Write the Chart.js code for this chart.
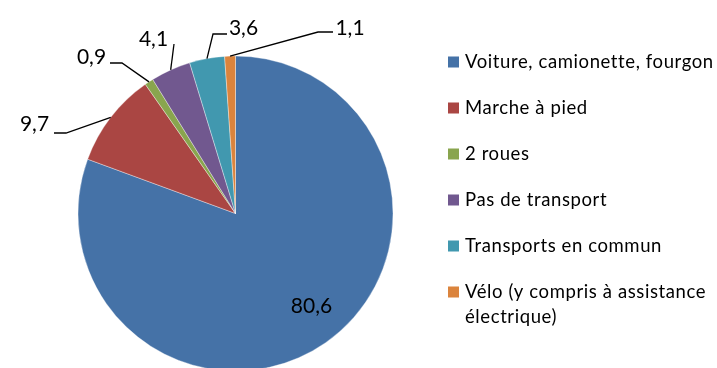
<!DOCTYPE html>
<html>
<head>
<meta charset="utf-8">
<script src="https://cdn.jsdelivr.net/npm/chart.js@4/dist/chart.umd.min.js"></script>
<style>
  html, body { margin: 0; padding: 0; background: #fff; overflow: hidden; }
  #wrap { position: relative; width: 717px; height: 368px; }
</style>
</head>
<body>
<div id="wrap"><canvas id="c" width="717" height="368"></canvas></div>
<script>
// Modes de transport (parts en %)
const categories = [
  'Voiture, camionette, fourgon',
  'Marche à pied',
  '2 roues',
  'Pas de transport',
  'Transports en commun',
  ['Vélo (y compris à assistance', 'électrique)']
];
const shares = [80.6, 9.7, 0.9, 4.1, 3.6, 1.1];
const valueLabels = ['80,6', '9,7', '0,9', '4,1', '3,6', '1,1'];
const colors = ['#4572A7', '#AA4643', '#89A54E', '#71588F', '#4198AF', '#DB843D'];

// Label placement relative to the pie centre: text centre, leader end and elbow
const labelLayout = [
  { text: [76, 93], leader: null },
  { text: [-201, -89.5], end: [-181.5, -80.5], elbow: [-169.5, -80.5] },
  { text: [-144, -156], end: [-125.5, -150.5], elbow: [-113.5, -150.5] },
  { text: [-82, -174], end: [-61.5, -169.5], elbow: [-61.5, -169.5] },
  { text: [8, -185], end: [-8.5, -179.5], elbow: [-22.5, -179.5] },
  { text: [114.5, -185.5], end: [97.5, -181.5], elbow: [82.5, -181.5] }
];

const FONT = 'Lato, "Open Sans", sans-serif';

const valueLabelPlugin = {
  id: 'valueLabels',
  afterDatasetsDraw(chart) {
    const ctx = chart.ctx;
    const meta = chart.getDatasetMeta(0);
    ctx.save();
    meta.data.forEach((arc, i) => {
      const cx = arc.x, cy = arc.y;
      const lay = labelLayout[i];
      if (lay.leader !== null) {
        const mid = (arc.startAngle + arc.endAngle) / 2;
        const ax = cx + Math.cos(mid) * arc.outerRadius;
        const ay = cy + Math.sin(mid) * arc.outerRadius;
        ctx.beginPath();
        ctx.moveTo(cx + lay.end[0], cy + lay.end[1]);
        ctx.lineTo(cx + lay.elbow[0], cy + lay.elbow[1]);
        ctx.lineTo(ax, ay);
        ctx.strokeStyle = '#000';
        ctx.lineWidth = 1.3;
        ctx.stroke();
      }
      ctx.fillStyle = '#000';
      ctx.font = '21px ' + FONT;
      ctx.textAlign = 'center';
      ctx.textBaseline = 'middle';
      ctx.fillText(valueLabels[i], cx + lay.text[0], cy + lay.text[1]);
    });
    ctx.restore();
  }
};

const legendPlugin = {
  id: 'sideLegend',
  afterDraw(chart) {
    const ctx = chart.ctx;
    const x0 = 448, y0 = 62, step = 46, box = 11, lineH = 25;
    ctx.save();
    ctx.font = '18.5px ' + FONT;
    if ('letterSpacing' in ctx) ctx.letterSpacing = '0.6px';
    ctx.textAlign = 'left';
    ctx.textBaseline = 'middle';
    chart.data.labels.forEach((lab, i) => {
      const y = y0 + i * step;
      ctx.fillStyle = colors[i];
      ctx.fillRect(x0, y - box / 2, box, box);
      ctx.fillStyle = '#000';
      const lines = Array.isArray(lab) ? lab : [lab];
      lines.forEach((t, k) => ctx.fillText(t, x0 + box + 6, y + k * lineH));
    });
    ctx.restore();
  }
};

new Chart(document.getElementById('c'), {
  type: 'pie',
  data: {
    labels: categories,
    datasets: [{
      data: shares,
      backgroundColor: colors,
      borderColor: 'rgba(255,255,255,0.6)',
      borderWidth: 0.6,
      radius: 157.5
    }]
  },
  options: {
    responsive: false,
    animation: false,
    events: [],
    layout: { padding: { left: 78, right: 324, top: 59, bottom: 0 } },
    plugins: {
      legend: { display: false },
      tooltip: { enabled: false }
    }
  },
  plugins: [valueLabelPlugin, legendPlugin]
});
</script>
</body>
</html>
